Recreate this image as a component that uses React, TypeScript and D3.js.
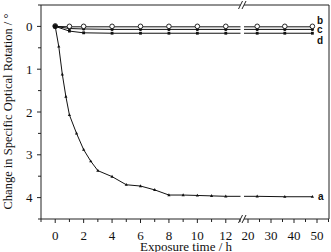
import React, { useEffect, useRef } from "react";
import * as d3 from "d3";

// exposure times (h)
const timesA = [0, 0.25, 0.5, 0.75, 1, 1.5, 2, 2.5, 3, 4, 5, 6, 7, 8, 9, 10, 11, 12, 24, 36, 48];
const valuesA = [0, 0.47, 1.12, 1.64, 2.07, 2.5, 2.88, 3.15, 3.37, 3.51, 3.7, 3.73, 3.82, 3.94, 3.94, 3.95, 3.96, 3.97, 3.97, 3.98, 3.98];

const timesBCD = [0, 1, 2, 4, 6, 8, 10, 12, 24, 36, 48];
const valuesB = [0, 0.01, 0.01, 0.01, 0.01, 0.01, 0.01, 0.01, 0.01, 0.01, 0.01];
const valuesC = [0, 0.05, 0.06, 0.07, 0.07, 0.07, 0.07, 0.07, 0.07, 0.07, 0.07];
const valuesD = [0, 0.11, 0.15, 0.16, 0.16, 0.16, 0.16, 0.16, 0.16, 0.16, 0.16];

const leftTicks = [0, 2, 4, 6, 8, 10, 12];
const rightTicks = [20, 30, 40, 50];
const yTicks = [0, 1, 2, 3, 4];

export default function App() {
  const ref = useRef(null);

  useEffect(() => {
    drawChart();
  }, []);

  function drawChart() {
    const width = 331;
    const height = 252;
    const left = 41,
      right = 329,
      top = 5,
      bottom = 219;
    const breakL = 240.5,
      breakR = 244;

    const xl = d3.scaleLinear().domain([-1, 13]).range([left, 240]);
    const xr = d3.scaleLinear().domain([18, 55]).range([243.4, 328.5]);
    const x = (t) => (t <= 13 ? xl(t) : xr(t));
    const y = d3.scaleLinear().domain([-0.5, 4.5]).range([top, bottom]);

    const root = d3.select(ref.current);
    root.selectAll("*").remove();
    const svg = root
      .append("svg")
      .attr("width", width)
      .attr("height", height)
      .style("position", "absolute")
      .style("left", 0)
      .style("top", 0)
      .style("background", "white");

    const defs = svg.append("defs");
    defs
      .append("clipPath")
      .attr("id", "clipL")
      .append("rect")
      .attr("x", left)
      .attr("y", top)
      .attr("width", breakL - left)
      .attr("height", bottom - top);
    defs
      .append("clipPath")
      .attr("id", "clipR")
      .append("rect")
      .attr("x", breakR)
      .attr("y", top)
      .attr("width", right - breakR)
      .attr("height", bottom - top);

    const ink = "#222";
    const serif = "'Liberation Serif', 'Times New Roman', serif";

    // frame with broken top/bottom
    const frame = svg.append("g").attr("stroke", ink).attr("stroke-width", 1).attr("fill", "none");
    frame.append("line").attr("x1", left).attr("x2", left).attr("y1", top).attr("y2", bottom);
    frame.append("line").attr("x1", right).attr("x2", right).attr("y1", top).attr("y2", bottom);
    [top, bottom].forEach((yy) => {
      frame.append("line").attr("x1", left).attr("x2", breakL).attr("y1", yy).attr("y2", yy);
      frame.append("line").attr("x1", breakR).attr("x2", right).attr("y1", yy).attr("y2", yy);
      [breakL, breakR].forEach((bx) => {
        frame
          .append("line")
          .attr("x1", bx - 2)
          .attr("x2", bx + 2)
          .attr("y1", yy + 4)
          .attr("y2", yy - 4);
      });
    });

    // x ticks
    const xt = svg.append("g").attr("stroke", ink);
    d3.range(-1, 14, 1).forEach((t) => {
      const major = t % 2 === 0 && t >= 0;
      xt.append("line")
        .attr("x1", xl(t))
        .attr("x2", xl(t))
        .attr("y1", bottom)
        .attr("y2", bottom + (major ? 4 : 3));
    });
    d3.range(20, 56, 5).forEach((t) => {
      xt.append("line")
        .attr("x1", xr(t))
        .attr("x2", xr(t))
        .attr("y1", bottom)
        .attr("y2", bottom + (t % 10 === 0 ? 4 : 3));
    });

    const xlab = svg
      .append("g")
      .attr("font-family", serif)
      .attr("font-size", 13)
      .attr("text-anchor", "middle")
      .attr("fill", "#111");
    leftTicks.forEach((t) => xlab.append("text").attr("x", xl(t)).attr("y", 240).text(t));
    rightTicks.forEach((t) => xlab.append("text").attr("x", xr(t)).attr("y", 240).text(t));

    svg
      .append("text")
      .attr("x", 186)
      .attr("y", 250.5)
      .attr("text-anchor", "middle")
      .attr("font-family", serif)
      .attr("font-size", 13)
      .attr("fill", "#111")
      .text("Exposure time / h");

    // y ticks
    const yt = svg.append("g").attr("stroke", ink);
    d3.range(-0.5, 4.51, 0.5).forEach((v) => {
      const major = Number.isInteger(v);
      yt.append("line")
        .attr("x1", left - (major ? 4 : 3))
        .attr("x2", left)
        .attr("y1", y(v))
        .attr("y2", y(v));
    });
    const ylab = svg
      .append("g")
      .attr("font-family", serif)
      .attr("font-size", 13)
      .attr("text-anchor", "end")
      .attr("fill", "#111");
    yTicks.forEach((v) =>
      ylab.append("text").attr("x", 32.5).attr("y", y(v) + 4.5).text(v)
    );

    svg
      .append("text")
      .attr("transform", `translate(11.5,${(top + bottom) / 2 - 0.5}) rotate(-90)`)
      .attr("text-anchor", "middle")
      .attr("font-family", serif)
      .attr("font-size", 12.5)
      .attr("fill", "#111")
      .text("Change in Specific Optical Rotation / °");

    // series
    const line = d3
      .line()
      .x((d) => x(d[0]))
      .y((d) => y(d[1]));

    const series = [
      { key: "d", t: timesBCD, v: valuesD },
      { key: "c", t: timesBCD, v: valuesC },
      { key: "b", t: timesBCD, v: valuesB },
      { key: "a", t: timesA, v: valuesA },
    ];

    series.forEach((s) => {
      const pts = s.t.map((t, i) => [t, s.v[i]]);
      ["clipL", "clipR"].forEach((c) => {
        svg
          .append("path")
          .attr("clip-path", `url(#${c})`)
          .attr("d", line(pts))
          .attr("fill", "none")
          .attr("stroke", "#111")
          .attr("stroke-width", 1);
      });
      const g = svg.append("g");
      pts.forEach((p) => {
        const cx = x(p[0]);
        const cy = y(p[1]);
        if (s.key === "a") {
          g.append("path")
            .attr("d", `M${cx},${cy - 1.8}L${cx + 1.6},${cy + 1.1}L${cx - 1.6},${cy + 1.1}Z`)
            .attr("fill", "#111");
        } else if (s.key === "b") {
          g.append("circle")
            .attr("cx", cx)
            .attr("cy", cy - 0.5)
            .attr("r", 2.3)
            .attr("fill", "white")
            .attr("stroke", "#111")
            .attr("stroke-width", 0.9);
        } else if (s.key === "c") {
          g.append("circle").attr("cx", cx).attr("cy", cy).attr("r", 1.6).attr("fill", "#111");
        } else {
          g.append("rect")
            .attr("x", cx - 1.4)
            .attr("y", cy - 1.4)
            .attr("width", 2.8)
            .attr("height", 2.8)
            .attr("fill", "#111");
        }
      });
    });
    // t=0 shared point
    svg.append("circle").attr("cx", x(0)).attr("cy", y(0)).attr("r", 2.5).attr("fill", "#111");

    // series labels
    const sl = svg
      .append("g")
      .attr("font-family", "'Liberation Sans', Arial, sans-serif")
      .attr("font-weight", "bold")
      .attr("font-size", 10)
      .attr("fill", "#111");
    sl.append("text").attr("x", 317).attr("y", 23.5).text("b");
    sl.append("text").attr("x", 317).attr("y", 32.5).text("c");
    sl.append("text").attr("x", 317).attr("y", 43.5).text("d");
    sl.append("text").attr("x", 318).attr("y", 200).text("a");
  }

  return <div ref={ref}></div>;
}
